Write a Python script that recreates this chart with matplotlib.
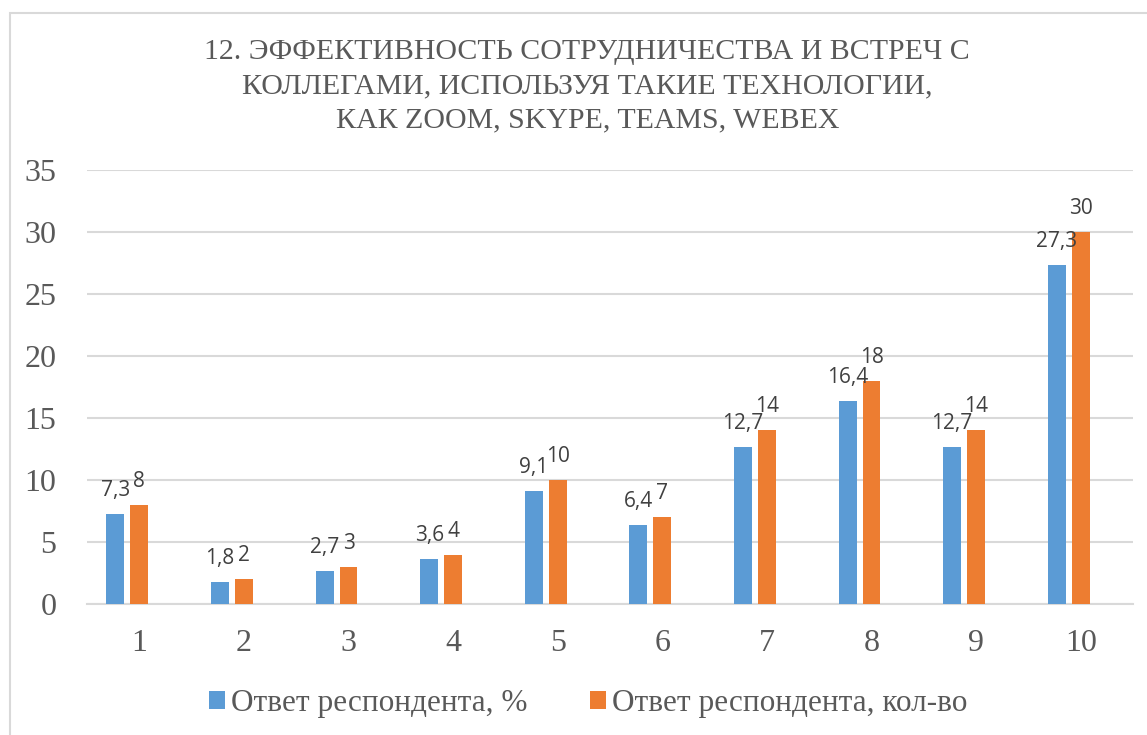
"""Bar chart: effectiveness of collaboration via Zoom, Skype, Teams, Webex."""

import matplotlib
matplotlib.use("Agg")
import matplotlib.pyplot as plt
import numpy as np
from matplotlib.patches import Rectangle

categories = ["1", "2", "3", "4", "5", "6", "7", "8", "9", "10"]
percent_values = [7.3, 1.8, 2.7, 3.6, 9.1, 6.4, 12.7, 16.4, 12.7, 27.3]
count_values = [8, 2, 3, 4, 10, 7, 14, 18, 14, 30]
series_names = ["Ответ респондента, %", "Ответ респондента, кол-во"]
title = ("12. ЭФФЕКТИВНОСТЬ СОТРУДНИЧЕСТВА И ВСТРЕЧ С\n"
         "КОЛЛЕГАМИ, ИСПОЛЬЗУЯ ТАКИЕ ТЕХНОЛОГИИ,\n"
         "КАК ZOOM, SKYPE, TEAMS, WEBEX")

BLUE = "#5B9BD5"
ORANGE = "#ED7D31"
GRID = "#D9D9D9"
TEXT = "#595959"
SERIF = "Liberation Serif"
SANS = "Open Sans"

fig = plt.figure(figsize=(11.47, 7.35), dpi=100)
ax = fig.add_axes([87 / 1147, 0.178, 1046 / 1147, 0.591])

# outer chart frame (only left/top visible in the crop)
fig.patches.append(Rectangle((10 / 1147, -0.1), 1.2, 1 - 13 / 735 + 0.1,
                             transform=fig.transFigure, fill=False,
                             edgecolor=GRID, linewidth=1.5))

x = np.arange(len(categories))
width = 0.172
step = 0.229
# Excel layout: orange bar sits on the tick, blue one slot to the left
b1 = ax.bar(x - step, percent_values, width, color=BLUE,
            label=series_names[0], zorder=3)
b2 = ax.bar(x, count_values, width, color=ORANGE,
            label=series_names[1], zorder=3)

for bars, vals in ((b1, percent_values), (b2, count_values)):
    for rect, v in zip(bars, vals):
        txt = f"{v:g}".replace(".", ",")
        ax.annotate(txt, (rect.get_x() + rect.get_width() / 2, rect.get_height()),
                    xytext=(0, 18), textcoords="offset pixels",
                    ha="center", va="baseline", fontsize=15,
                    family=SANS, color="#404040", zorder=4)

ax.set_ylim(0, 35)
ax.set_yticks(range(0, 36, 5))
ax.set_xlim(-0.5, len(categories) - 0.5)
ax.set_xticks(x)
ax.set_xticklabels(categories)
ax.yaxis.grid(True, color=GRID, linewidth=1.5, zorder=0)
ax.set_axisbelow(True)
for side in ("top", "right", "left"):
    ax.spines[side].set_visible(False)
ax.spines["bottom"].set_color(GRID)
ax.spines["bottom"].set_linewidth(1.5)
ax.tick_params(length=0, labelsize=23, labelcolor=TEXT, pad=22)
ax.tick_params(axis="x", pad=18)
for lbl in ax.get_xticklabels() + ax.get_yticklabels():
    lbl.set_family(SERIF)

fig.text(0.512, 0.947, title, ha="center", va="top", fontsize=21.5,
         family=SERIF, color=TEXT, linespacing=1.42)

fig.legend(loc="center", bbox_to_anchor=(0.513, 0.043), ncol=2, frameon=False,
           prop={"family": SERIF, "size": 22.5}, labelcolor=TEXT,
           handlelength=0.5, handleheight=0.5, handletextpad=0.2,
           columnspacing=2.0)

fig.savefig("out.png", dpi=100, facecolor="white")
